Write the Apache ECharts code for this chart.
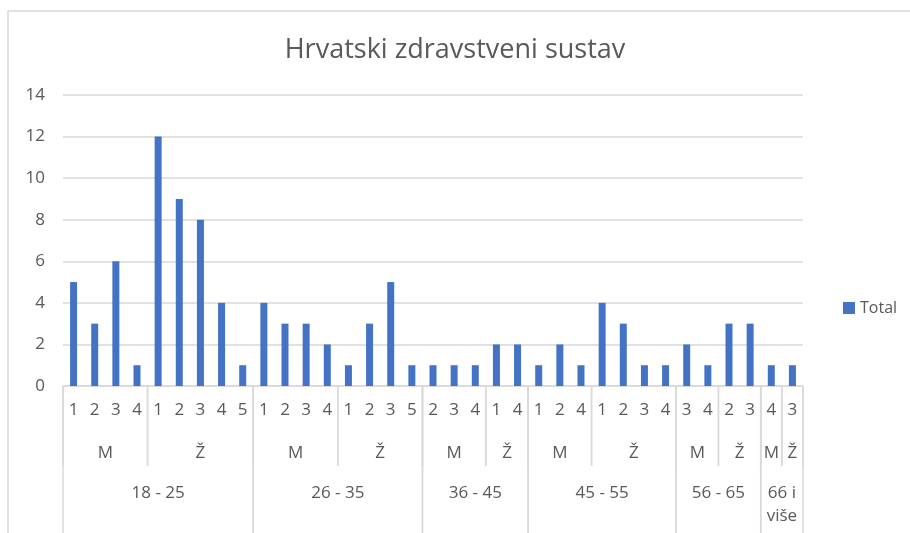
<!DOCTYPE html>
<html>
<head>
<meta charset="utf-8">
<script src="https://cdn.jsdelivr.net/npm/echarts@6/dist/echarts.min.js"></script>
<style>
  html, body { margin: 0; padding: 0; background: #fff; }
  #chart { width: 910px; height: 533px; }
</style>
</head>
<body>
<div id="chart"></div>
<script>
// Innermost level of the category axis (one per bar)
const codes = [
  '1', '2', '3', '4', '1', '2', '3', '4', '5',
  '1', '2', '3', '4', '1', '2', '3', '5',
  '2', '3', '4', '1', '4',
  '1', '2', '4', '1', '2', '3', '4',
  '3', '4', '2', '3',
  '4', '3'
];
const totals = [
  5, 3, 6, 1, 12, 9, 8, 4, 1,
  4, 3, 3, 2, 1, 3, 5, 1,
  1, 1, 1, 2, 2,
  1, 2, 1, 4, 3, 1, 1,
  2, 1, 3, 3,
  1, 1
];
// Middle level: gender, with the number of bars in each group
const genderLabels = ['M', 'Ž', 'M', 'Ž', 'M', 'Ž', 'M', 'Ž', 'M', 'Ž', 'M', 'Ž'];
const genderCounts = [4, 5, 4, 4, 3, 2, 3, 4, 2, 2, 1, 1];
// Outer level: age group
const ageLabels = ['18 - 25', '26 - 35', '36 - 45', '45 - 55', '56 - 65', '66 i\nviše'];
const ageCounts = [9, 8, 5, 7, 4, 2];

const textColor = '#595959';
const lineColor = '#d9d9d9';
const font = '"Open Sans", "Noto Sans", sans-serif';

// Turn group sizes into [start, end, level, label] rows
function groupRows(labels, counts, level) {
  const rows = [];
  let start = 0;
  counts.forEach((c, i) => {
    rows.push([start, start + c - 1, level, labels[i]]);
    start += c;
  });
  return rows;
}
const groupData = groupRows(genderLabels, genderCounts, 2)
  .concat(groupRows(ageLabels, ageCounts, 3));

function renderGroup(params, api) {
  const start = api.value(0);
  const end = api.value(1);
  const level = api.value(2);
  const label = groupData[params.dataIndex][3];
  const band = api.size([1, 0])[0];
  const p0 = api.coord([start, 0]);
  const p1 = api.coord([end, 0]);
  const x0 = p0[0] - band / 2;
  const x1 = p1[0] + band / 2;
  const base = p0[1];
  const lineEnd = level === 2 ? base + 80 : base + 150;
  const textY = level === 2 ? base + 56 : base + 96;
  return {
    type: 'group',
    children: [
      {
        type: 'line',
        shape: { x1: x0, y1: base, x2: x0, y2: lineEnd },
        style: { stroke: lineColor, lineWidth: 1.5 }
      },
      {
        type: 'line',
        shape: { x1: x1, y1: base, x2: x1, y2: lineEnd },
        style: { stroke: lineColor, lineWidth: 1.5 }
      },
      {
        type: 'text',
        style: {
          text: label,
          x: (x0 + x1) / 2,
          y: textY,
          align: 'center',
          verticalAlign: 'top',
          fill: textColor,
          font: '17px ' + font,
          lineHeight: 23
        }
      }
    ]
  };
}

const chart = echarts.init(document.getElementById('chart'));

chart.setOption({
  animation: false,
  title: {
    text: 'Hrvatski zdravstveni sustav',
    left: 'center',
    top: 32,
    textStyle: {
      color: textColor,
      fontFamily: font,
      fontSize: 27,
      fontWeight: 'normal'
    }
  },
  legend: {
    data: ['Total'],
    left: 838,
    top: 295,
    itemWidth: 12,
    itemHeight: 12,
    itemGap: 6,
    icon: 'rect',
    textStyle: { color: textColor, fontFamily: font, fontSize: 16 }
  },
  grid: {
    left: 63,
    right: 107,
    top: 95,
    bottom: 147
  },
  graphic: [
    {
      type: 'rect',
      shape: { x: 8, y: 11, width: 920, height: 540 },
      style: { fill: 'none', stroke: lineColor, lineWidth: 1.5 },
      silent: true
    }
  ],
  xAxis: {
    type: 'category',
    data: codes,
    axisLine: { lineStyle: { color: lineColor, width: 1.5 } },
    axisTick: { show: false },
    axisLabel: {
      interval: 0,
      margin: 16,
      color: textColor,
      fontFamily: font,
      fontSize: 17
    }
  },
  yAxis: {
    type: 'value',
    min: 0,
    max: 14,
    interval: 2,
    axisLine: { show: false },
    axisTick: { show: false },
    splitLine: { lineStyle: { color: lineColor, width: 1.5 } },
    axisLabel: {
      margin: 18,
      color: textColor,
      fontFamily: font,
      fontSize: 17
    }
  },
  series: [
    {
      name: 'Total',
      type: 'bar',
      data: totals,
      barWidth: 7,
      itemStyle: { color: '#4472c4' }
    },
    {
      type: 'custom',
      renderItem: renderGroup,
      clip: false,
      silent: true,
      encode: { x: [0, 1] },
      data: groupData.map(r => [r[0], r[1], r[2]]),
      z: 1
    }
  ]
});
</script>
</body>
</html>
